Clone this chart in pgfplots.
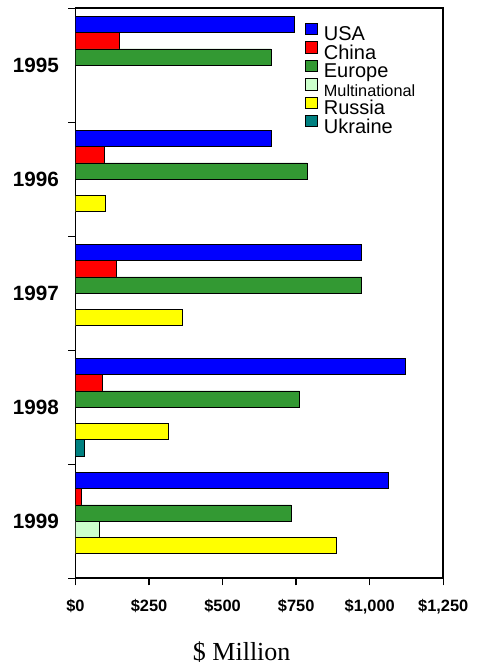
\documentclass[border=0pt]{standalone}
\usepackage{pgfplots}
\pgfplotsset{compat=1.18}
\usepackage{fontspec}
\setmainfont{Liberation Sans}
\newfontfamily\serifx{Liberation Serif}
\definecolor{cusa}{RGB}{0,0,255}
\definecolor{cchina}{RGB}{255,0,0}
\definecolor{ceurope}{RGB}{51,153,51}
\definecolor{cmulti}{RGB}{204,255,204}
\definecolor{crussia}{RGB}{255,255,0}
\definecolor{cukraine}{RGB}{0,128,128}
\newcommand\lent[1]{\rule[-3pt]{0pt}{14pt}\smash{#1}}
\begin{document}
\begin{tikzpicture}
\useasboundingbox (-56.6pt,-65.8pt) rectangle (300.4pt,433.7pt);
\begin{axis}[
  at={(0,0)}, anchor=south west,
  scale only axis,
  width=275.85pt, height=427.5pt,
  xbar, bar width=12.2pt,
  xmin=0, xmax=1250,
  ymin=-0.5, ymax=4.5,
  axis line style={line width=1.3pt},
  xtick={0,250,500,750,1000,1250},
  xticklabels={{\$0},{\$250},{\$500},{\$750},{\$1,000},{\$1,250}},
  ytick={-0.5,0.5,1.5,2.5,3.5,4.5},
  yticklabels={},
  extra y ticks={0,1,2,3,4},
  extra y tick labels={1999,1998,1997,1996,1995},
  extra y tick style={major tick length=0pt, tick style={draw=none},
    yticklabel style={font=\fontsize{15.5}{18}\selectfont\bfseries, inner sep=0pt, anchor=east, xshift=-12.2pt}},
  major tick length=5.25pt,
  tick align=outside,
  tick pos=left,
  tick style={line width=1.1pt, black},
  xticklabel style={font=\fontsize{12.3}{14}\selectfont\bfseries, inner sep=0pt, anchor=north, yshift=-10.5pt},
  xlabel={\serifx\fontsize{19.5}{22}\selectfont \$ Million},
  xlabel style={at={(axis description cs:0.452,0)}, anchor=base, yshift=-61.6pt, inner sep=0pt},
  legend image code/.code={\draw[#1, line width=0.5pt] (0pt,0pt) rectangle (9pt,8.5pt);},
  legend style={draw=none, fill=none, at={(axis description cs:0.624,1)}, anchor=north west, yshift=-10.7pt,
    inner sep=0pt, row sep=-1.15pt,
    nodes={inner sep=0pt, font=\fontsize{15}{18}\selectfont},
    /tikz/every odd column/.append style={column sep=4.5pt}},
  legend cell align=left,
  every axis plot/.append style={draw=black, line width=0.5pt},
]
\addplot[fill=cusa, bar shift=30.5pt] coordinates {(744,4) (664,3) (973,2) (1122,1) (1064,0)};
\addplot[fill=cchina, bar shift=18.3pt] coordinates {(148,4) (97,3) (140,2) (90,1) (21,0)};
\addplot[fill=ceurope, bar shift=6.1pt] coordinates {(664,4) (787,3) (973,2) (762,1) (733,0)};
\addplot[fill=cmulti, bar shift=-6.1pt] coordinates {(82,0)};
\addplot[fill=crussia, bar shift=-18.3pt] coordinates {(103,3) (362,2) (315,1) (886,0)};
\addplot[fill=cukraine, bar shift=-30.5pt] coordinates {(31,1)};
\legend{\lent{USA}, \lent{China}, \lent{Europe}, \lent{\fontsize{12.2}{14}\selectfont Multinational}, \lent{Russia}, \lent{Ukraine}}
\end{axis}
\end{tikzpicture}
\end{document}
